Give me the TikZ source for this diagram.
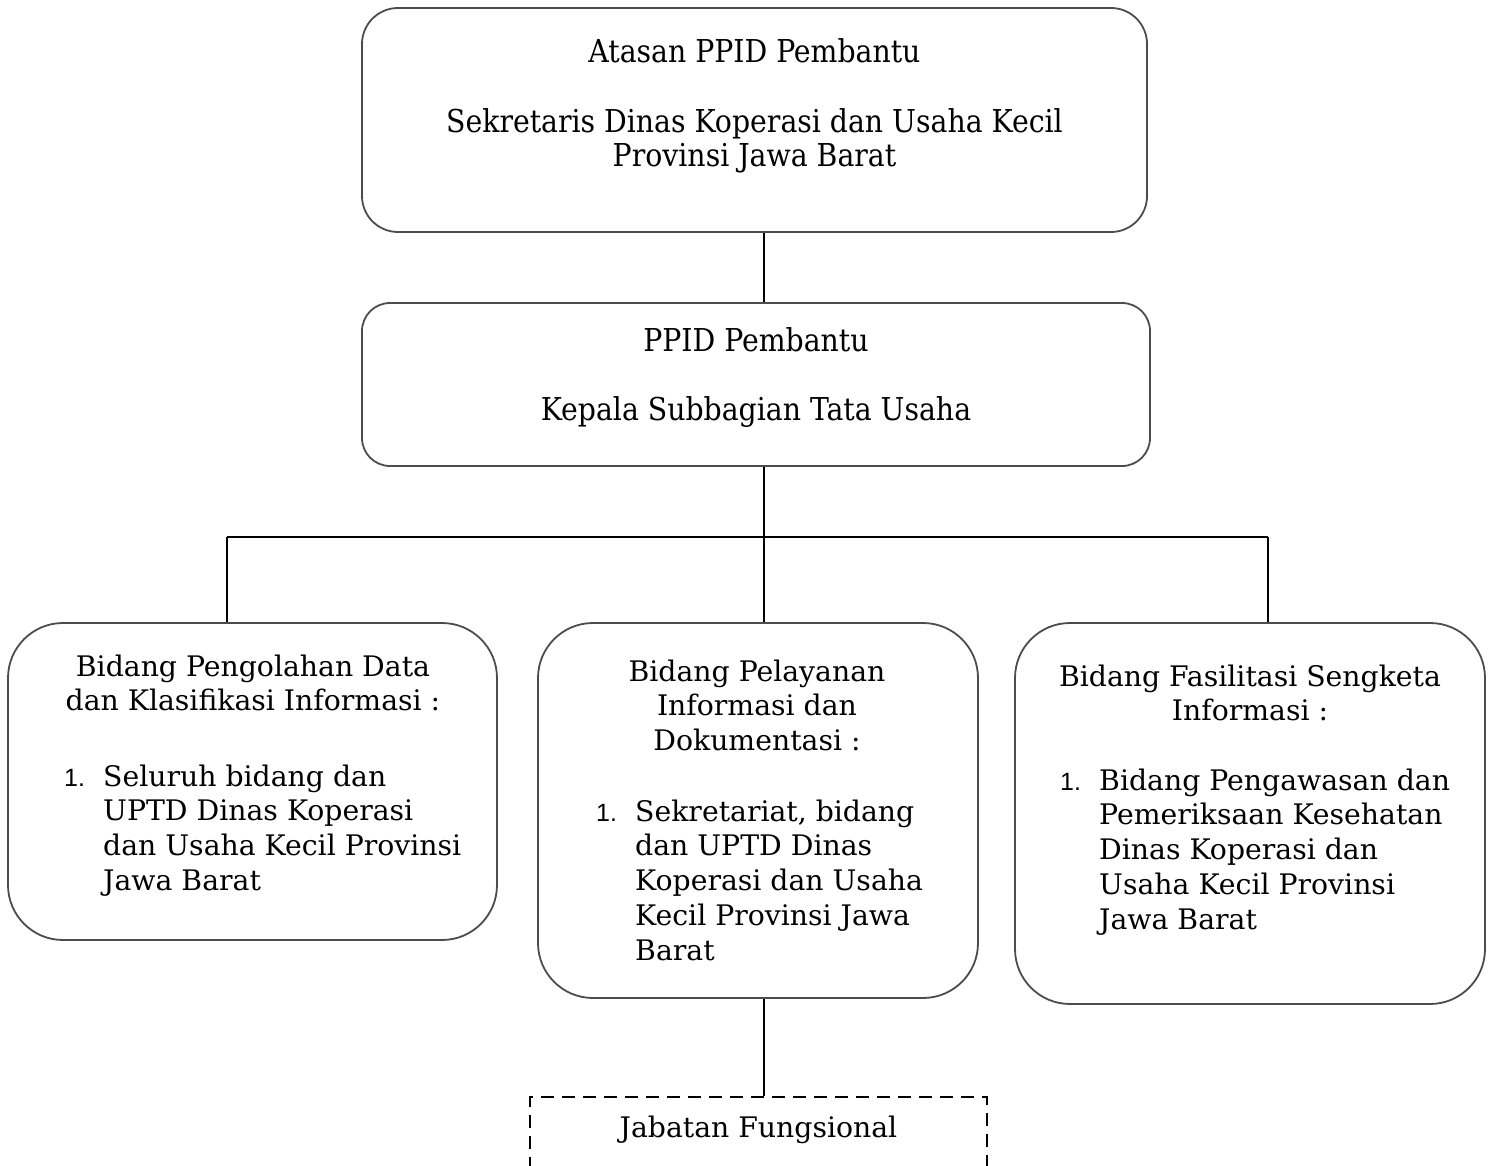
\documentclass[tikz,border=0pt]{standalone}
\usepackage{fontspec}
\setmainfont{DejaVu Serif}
\newfontfamily\condfont{DejaVu Serif Condensed}
\newfontfamily\numfont{Liberation Sans}
\newcommand{\nomor}{\makebox[39pt][l]{\fontsize{25}{28}\numfont 1.}}

\begin{document}
\begin{tikzpicture}[x=1pt, y=-1pt,
    kotak/.style={rectangle, draw=black!70, line width=1.8pt, inner sep=0pt},
    garis/.style={draw=black, line width=1.8pt},
    judul/.style={anchor=base, inner sep=0pt, font=\fontsize{28.3}{34.8}\selectfont},
    atas/.style={anchor=base, inner sep=0pt, font=\condfont\fontsize{31.5}{33}\selectfont}]
            \clip (0,0) rectangle (1493,1166);

            % kotak
            \node[kotak, rounded corners=36pt, minimum width=785pt, minimum height=224pt] (atasan) at (754.5, 120) {};
            \node[kotak, rounded corners=28pt, minimum width=788pt, minimum height=163pt] (ppid) at (756, 384.5) {};
            \node[kotak, rounded corners=55pt, minimum width=489pt, minimum height=317pt] (olah) at (252.5, 781.5) {};
            \node[kotak, rounded corners=55pt, minimum width=440pt, minimum height=375pt] (layan) at (758, 810.5) {};
            \node[kotak, rounded corners=55pt, minimum width=470pt, minimum height=381pt] (fasil) at (1250, 813.5) {};
            \node[kotak, draw=black, dash pattern=on 13pt off 8pt, minimum width=457pt, minimum height=160pt] (jabatan) at (758.5, 1177) {};

            % teks
            \node[atas] (t-atasan) at (754.5, 63) {Atasan PPID Pembantu};
            \node[atas] (t-sekre) at (754.5, 133) {\begin{tabular}[t]{@{}c@{}}Sekretaris Dinas Koperasi dan Usaha Kecil\\ Provinsi Jawa Barat\end{tabular}};
            \node[atas] (t-ppid) at (756, 351) {PPID Pembantu};
            \node[atas] (t-kasubag) at (756, 420) {Kepala Subbagian Tata Usaha};

            \node[judul] (t-olah) at (253, 676) {\begin{tabular}[t]{@{}c@{}}Bidang Pengolahan Data\\ dan Klasifikasi Informasi :\end{tabular}};
            \node[judul, anchor=base west] (l-olah) at (64, 786) {\begin{tabular}[t]{@{}l@{}l@{}}\nomor & Seluruh bidang dan\\ & UPTD Dinas Koperasi\\ & dan Usaha Kecil Provinsi\\ & Jawa Barat\end{tabular}};

            \node[judul] (t-layan) at (757, 681) {\begin{tabular}[t]{@{}c@{}}Bidang Pelayanan\\ Informasi dan\\ Dokumentasi :\end{tabular}};
            \node[judul, anchor=base west] (l-layan) at (596, 821) {\begin{tabular}[t]{@{}l@{}l@{}}\nomor & Sekretariat, bidang\\ & dan UPTD Dinas\\ & Koperasi dan Usaha\\ & Kecil Provinsi Jawa\\ & Barat\end{tabular}};

            \node[judul] (t-fasil) at (1250, 686) {\begin{tabular}[t]{@{}c@{}}Bidang Fasilitasi Sengketa\\ Informasi :\end{tabular}};
            \node[judul, anchor=base west] (l-fasil) at (1060, 790) {\begin{tabular}[t]{@{}l@{}l@{}}\nomor & Bidang Pengawasan dan\\ & Pemeriksaan Kesehatan\\ & Dinas Koperasi dan\\ & Usaha Kecil Provinsi\\ & Jawa Barat\end{tabular}};

            \node[judul] (t-jabatan) at (758.5, 1137) {Jabatan Fungsional};

            % garis
            \coordinate (bus) at (764, 537);
            \coordinate (busA) at (227, 537);
            \coordinate (busC) at (1268, 537);

            \draw[garis] (atasan.south -| bus) -- (ppid.north -| bus);
            \draw[garis] (ppid.south -| bus) -- (bus);
            \draw[garis, line width=2.6pt] (busA) -- (busC);
            \draw[garis] (busA) -- (olah.north -| busA);
            \draw[garis] (bus) -- (layan.north -| bus);
            \draw[garis] (busC) -- (fasil.north -| busC);
            \draw[garis] (layan.south -| bus) -- (jabatan.north -| bus);
        \end{tikzpicture}
\end{document}
